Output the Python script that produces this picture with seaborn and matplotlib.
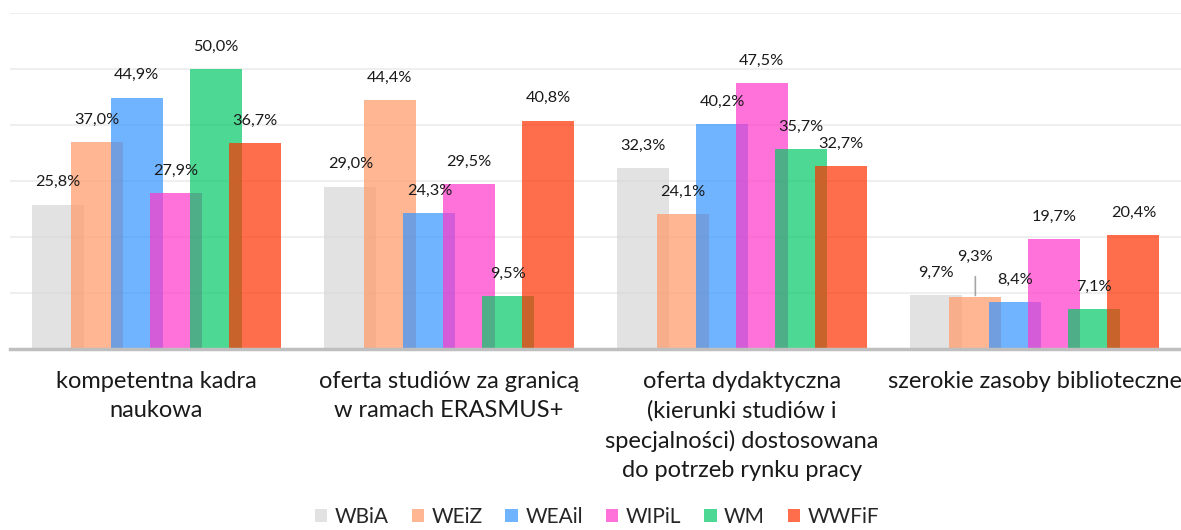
import matplotlib
matplotlib.use('Agg')
import matplotlib.pyplot as plt
import matplotlib.patches as mpatches
import pandas as pd
import seaborn as sns

categories = [
    "kompetentna kadra\nnaukowa",
    "oferta studiów za granicą\nw ramach ERASMUS+",
    "oferta dydaktyczna\n(kierunki studiów i\nspecjalności) dostosowana\ndo potrzeb rynku pracy",
    "szerokie zasoby biblioteczne",
]
series = ["WBiA", "WEiZ", "WEAiI", "WIPiL", "WM", "WWFiF"]
wbia = [25.8, 29.0, 32.3, 9.7]
weiz = [37.0, 44.4, 24.1, 9.3]
weaii = [44.9, 24.3, 40.2, 8.4]
wipil = [27.9, 29.5, 47.5, 19.7]
wm = [50.0, 9.5, 35.7, 7.1]
wwfif = [36.7, 40.8, 32.7, 20.4]
colors = ["#D6D6D6", "#FF9866", "#3395FF", "#FF37C9", "#01C965", "#FF3100"]
legend_labels = ["WBiA", "WEiZ", "WEAil", "WIPiL", "WM", "WWFiF"]

values_by_series = dict(zip(series, [wbia, weiz, weaii, wipil, wm, wwfif]))
df = pd.DataFrame([
    {"kategoria": cat, "wydział": s, "procent": vals[i]}
    for s, vals in values_by_series.items()
    for i, cat in enumerate(categories)
])

sns.set_style("white")
plt.rcParams['font.family'] = ['Lato', 'DejaVu Sans']

fig = plt.figure(figsize=(11.81, 5.30), dpi=100)
ax = fig.add_axes([10 / 1181, 181 / 530, 1171 / 1181, 336 / 530])

step = 0.135
bar_w = 0.178
sns.barplot(
    data=df, x="kategoria", y="procent", hue="wydział", order=categories,
    hue_order=series, palette=colors, width=step * len(series), gap=0,
    alpha=0.7, saturation=1, legend=False, ax=ax, linewidth=0,
)

bars = [p for p in ax.patches if isinstance(p, mpatches.Rectangle)]
for p in bars:
    cx = p.get_x() + p.get_width() / 2
    p.set_width(bar_w)
    p.set_x(cx - bar_w / 2)

# data labels
for p in bars:
    h = p.get_height()
    cx = p.get_x() + p.get_width() / 2
    label = f"{h:.1f}%".replace('.', ',')
    if abs(h - 9.3) < 1e-6:
        ax.annotate(label, xy=(cx, h), xytext=(0, 29), textcoords='offset points',
                    ha='center', va='center', fontsize=11.7, color='#1a1a1a',
                    arrowprops=dict(arrowstyle='-', color='#A6A6A6', lw=1.2,
                                    shrinkA=7, shrinkB=1))
    else:
        ax.annotate(label, xy=(cx, h), xytext=(0, 16), textcoords='offset points',
                    ha='center', va='center', fontsize=11.7, color='#1a1a1a')

ax.set_ylim(0, 60)
ax.set_xlim(-0.5, len(categories) - 0.5)
ax.set_yticks(range(0, 61, 10))
ax.set_yticklabels([])
ax.yaxis.grid(True, color='#EFEFEF', linewidth=1.5)
ax.set_axisbelow(True)
ax.tick_params(axis='y', length=0)
ax.tick_params(axis='x', length=0, pad=16)
ax.set_xticks(range(len(categories)))
ax.set_xticklabels(categories, fontsize=17, color='#1a1a1a', linespacing=1.45, va='top')
ax.set_xlabel("")
ax.set_ylabel("")
for side in ['top', 'right', 'left']:
    ax.spines[side].set_visible(False)
ax.spines['bottom'].set_color('#BFBFBF')
ax.spines['bottom'].set_linewidth(2.5)

handles = [mpatches.Patch(facecolor=c, alpha=0.7, edgecolor='none') for c in colors]
fig.legend(handles, legend_labels, loc='center', ncol=6, frameon=False,
           bbox_to_anchor=(597 / 1181, 13 / 530), fontsize=15,
           handlelength=0.6, handleheight=0.6, handletextpad=0.35, columnspacing=1.1)

fig.savefig("out.png", dpi=100)
